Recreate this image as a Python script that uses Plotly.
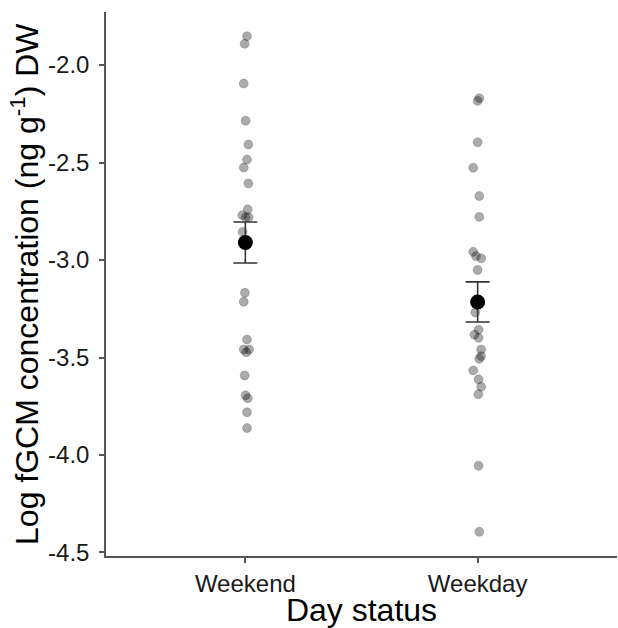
import plotly.graph_objects as go

categories = ["Weekend", "Weekday"]
category_pos = [1, 2]

weekend_values = [-1.852, -1.891, -2.095, -2.286, -2.408, -2.485, -2.526, -2.607,
                  -2.740, -2.770, -2.781, -2.781, -2.856, -3.168, -3.214, -3.408,
                  -3.459, -3.459, -3.473, -3.592, -3.694, -3.709, -3.781, -3.862]
weekend_jitter = [0.007, -0.003, -0.007, 0.001, 0.013, 0.007, -0.007, 0.013,
                  0.010, -0.013, 0.001, 0.014, -0.012, -0.002, -0.007, 0.007,
                  -0.007, 0.016, 0.004, -0.003, 0.001, 0.010, 0.007, 0.007]

weekday_values = [-2.170, -2.184, -2.396, -2.527, -2.672, -2.779, -2.958, -2.980,
                  -2.991, -3.051, -3.269, -3.357, -3.383, -3.399, -3.459, -3.493,
                  -3.507, -3.566, -3.612, -3.650, -3.689, -4.055, -4.394]
weekday_jitter = [0.007, 0.0, 0.0, -0.019, 0.007, 0.007, -0.019, -0.007,
                  0.015, 0.0, -0.010, 0.004, -0.014, 0.004, 0.015, 0.015,
                  0.007, -0.019, 0.004, 0.015, 0.003, 0.004, 0.007]

means = [-2.91, -3.215]
std_errors = [0.105, 0.103]

y_ticks = [-2.0, -2.5, -3.0, -3.5, -4.0, -4.5]
y_ticklabels = ["-2.0", "-2.5", "-3.0", "-3.5", "-4.0", "-4.5"]
y_title = "Log fGCM concentration (ng g<sup>-1</sup>) DW"
x_title = "Day status"

FONT = "Arial, Liberation Sans, sans-serif"

fig = go.Figure()

for pos, vals, jit in [(category_pos[0], weekend_values, weekend_jitter),
                       (category_pos[1], weekday_values, weekday_jitter)]:
    fig.add_trace(go.Scatter(
        x=[pos + j for j in jit], y=vals, mode="markers",
        marker=dict(size=9, color="rgba(0,0,0,0.33)",
                    line=dict(width=1, color="rgba(0,0,0,0.18)")),
        showlegend=False, hoverinfo="y"))

fig.add_trace(go.Scatter(
    x=category_pos, y=means, mode="markers",
    marker=dict(size=15, color="black"),
    error_y=dict(type="data", array=std_errors, visible=True,
                 color="#333333", thickness=1.6, width=12),
    showlegend=False))

fig.update_layout(
    width=618, height=628,
    margin=dict(l=106, r=1, t=12, b=72),
    plot_bgcolor="white", paper_bgcolor="white",
    font=dict(family=FONT, color="#1a1a1a"),
    xaxis=dict(
        range=[0.4, 2.6], tickvals=category_pos, ticktext=categories,
        showline=True, linecolor="#555555", linewidth=1.5,
        ticks="outside", ticklen=5, tickcolor="#555555", tickwidth=1.5,
        showgrid=False, zeroline=False,
        tickfont=dict(size=24, color="#1a1a1a"),
        title=dict(text=x_title, font=dict(size=32, color="black"), standoff=2),
    ),
    yaxis=dict(
        range=[-4.518, -1.728], tickvals=y_ticks, ticktext=y_ticklabels,
        showline=True, linecolor="#555555", linewidth=1.5,
        ticks="outside", ticklen=5, tickcolor="#555555", tickwidth=1.5,
        ticklabelstandoff=5,
        showgrid=False, zeroline=False,
        tickfont=dict(size=24, color="#1a1a1a"),
    ),
    annotations=[dict(
        text=y_title, textangle=-90, xref="paper", yref="paper",
        x=-0.1586, y=0.5, xanchor="center", yanchor="middle", showarrow=False,
        font=dict(size=32, color="black", family=FONT))],
)

fig.write_html("out.html", config={"displayModeBar": False},
               post_script="document.body.style.margin='0';")
